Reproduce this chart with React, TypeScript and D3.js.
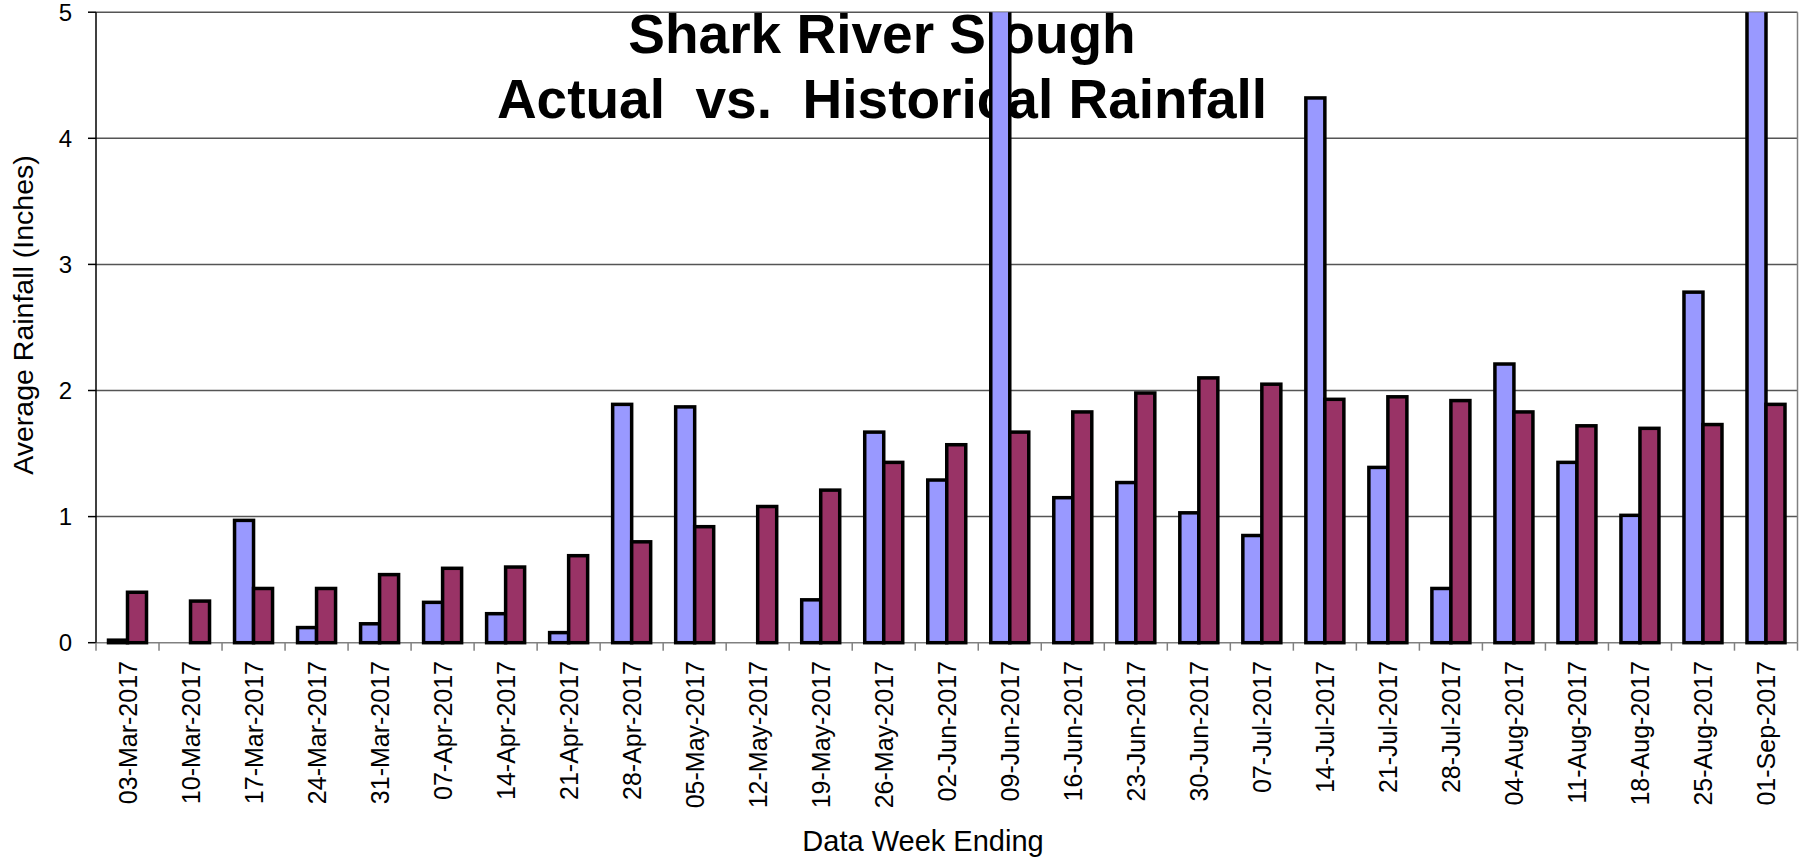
import React from "react";
import * as d3 from "d3";

const categories = [
  "03-Mar-2017", "10-Mar-2017", "17-Mar-2017", "24-Mar-2017", "31-Mar-2017",
  "07-Apr-2017", "14-Apr-2017", "21-Apr-2017", "28-Apr-2017", "05-May-2017",
  "12-May-2017", "19-May-2017", "26-May-2017", "02-Jun-2017", "09-Jun-2017",
  "16-Jun-2017", "23-Jun-2017", "30-Jun-2017", "07-Jul-2017", "14-Jul-2017",
  "21-Jul-2017", "28-Jul-2017", "04-Aug-2017", "11-Aug-2017", "18-Aug-2017",
  "25-Aug-2017", "01-Sep-2017",
];

const actual = [
  0.02, 0, 0.97, 0.12, 0.15, 0.32, 0.23, 0.08, 1.89, 1.87,
  0, 0.34, 1.67, 1.29, 5.6, 1.15, 1.27, 1.03, 0.85, 4.32,
  1.39, 0.43, 2.21, 1.43, 1.01, 2.78, 6.0,
];

const historical = [
  0.40, 0.33, 0.43, 0.43, 0.54, 0.59, 0.60, 0.69, 0.80, 0.92,
  1.08, 1.21, 1.43, 1.57, 1.67, 1.83, 1.98, 2.10, 2.05, 1.93,
  1.95, 1.92, 1.83, 1.72, 1.70, 1.73, 1.89,
];

const yTicks = [0, 1, 2, 3, 4, 5];
const seriesKeys = ["actual", "historical"];
const seriesColors = ["#9999FF", "#993366"];
const titleLines = ["Shark River Slough", "Actual  vs.  Historical Rainfall"];
const yTitle = "Average Rainfall (Inches)";
const xTitle = "Data Week Ending";

const W = 1808;
const H = 857;
const left = 96;
const right = 1797.5;
const top = 12.2;
const bottom = 642.7;
const FONT = "'Liberation Sans', Arial, Helvetica, sans-serif";

export default function App() {
  const x0 = d3.scaleBand<string>().domain(categories).range([left, right]).padding(0);
  const x1 = d3
    .scaleBand<string>()
    .domain(seriesKeys)
    .range([0, x0.bandwidth()])
    .paddingInner(0)
    .paddingOuter(0.658);
  const y = d3.scaleLinear().domain([0, 5]).range([bottom, top]);

  const seriesData = [actual, historical];

  return (
    <svg
      width={W}
      height={H}
      style={{ position: "absolute", left: 0, top: 0, background: "#fff" }}
      fontFamily={FONT}
    >
      <defs>
        <clipPath id="plotClip">
          <rect x={left - 5} y={top} width={right - left + 10} height={bottom - top + 10} />
        </clipPath>
      </defs>
      <rect x={0} y={0} width={W} height={H} fill="#fff" />

      {/* gridlines */}
      {yTicks.map((t) => (
        <line
          key={"g" + t}
          x1={left}
          x2={right}
          y1={y(t)}
          y2={y(t)}
          stroke={t === 0 ? "#808080" : "#555"}
          strokeWidth={1.5}
        />
      ))}
      {/* right border of plot area */}
      <line x1={right} x2={right} y1={top} y2={bottom} stroke="#808080" strokeWidth={1.5} />

      {/* title (drawn beneath bars) */}
      <text x={882} y={53} textAnchor="middle" fontSize={55} fontWeight="bold" fill="#000">
        {titleLines[0]}
      </text>
      <text
        x={882}
        y={118}
        textAnchor="middle"
        fontSize={55}
        fontWeight="bold"
        fill="#000"
        style={{ whiteSpace: "pre" }}
      >
        {titleLines[1]}
      </text>

      {/* bars */}
      <g clipPath="url(#plotClip)">
        {categories.map((c, i) =>
          seriesKeys.map((k, s) => {
            const v = seriesData[s][i];
            if (!v) return null;
            const yTop = y(v);
            return (
              <rect
                key={c + k}
                x={(x0(c) as number) + (x1(k) as number)}
                y={yTop}
                width={x1.bandwidth()}
                height={bottom - yTop}
                fill={seriesColors[s]}
                stroke="#000"
                strokeWidth={3.5}
              />
            );
          })
        )}
      </g>

      {/* y axis */}
      <line x1={left} x2={left} y1={top} y2={bottom} stroke="#000" strokeWidth={1.5} />
      {yTicks.map((t) => (
        <g key={"yt" + t}>
          <line x1={left - 8} x2={left} y1={y(t)} y2={y(t)} stroke="#000" strokeWidth={1.5} />
          <text
            x={72}
            y={y(t)}
            textAnchor="end"
            dominantBaseline="central"
            fontSize={24}
            fill="#000"
          >
            {t}
          </text>
        </g>
      ))}

      {/* x axis ticks */}
      {categories.map((c) => (
        <line
          key={"xt" + c}
          x1={x0(c) as number}
          x2={x0(c) as number}
          y1={bottom}
          y2={bottom + 8}
          stroke="#808080"
          strokeWidth={1.5}
        />
      ))}
      <line x1={right} x2={right} y1={bottom} y2={bottom + 8} stroke="#808080" strokeWidth={1.5} />

      {/* x labels */}
      {categories.map((c) => {
        const cx = (x0(c) as number) + x0.bandwidth() / 2;
        return (
          <text
            key={"xl" + c}
            transform={`translate(${cx},661) rotate(-90)`}
            textAnchor="end"
            dominantBaseline="central"
            fontSize={25}
            fill="#000"
          >
            {c}
          </text>
        );
      })}

      {/* axis titles */}
      <text
        transform={`translate(23,315) rotate(-90)`}
        textAnchor="middle"
        dominantBaseline="central"
        fontSize={28.5}
        fill="#000"
      >
        {yTitle}
      </text>
      <text x={923} y={851} textAnchor="middle" fontSize={29} fill="#000">
        {xTitle}
      </text>
    </svg>
  );
}
